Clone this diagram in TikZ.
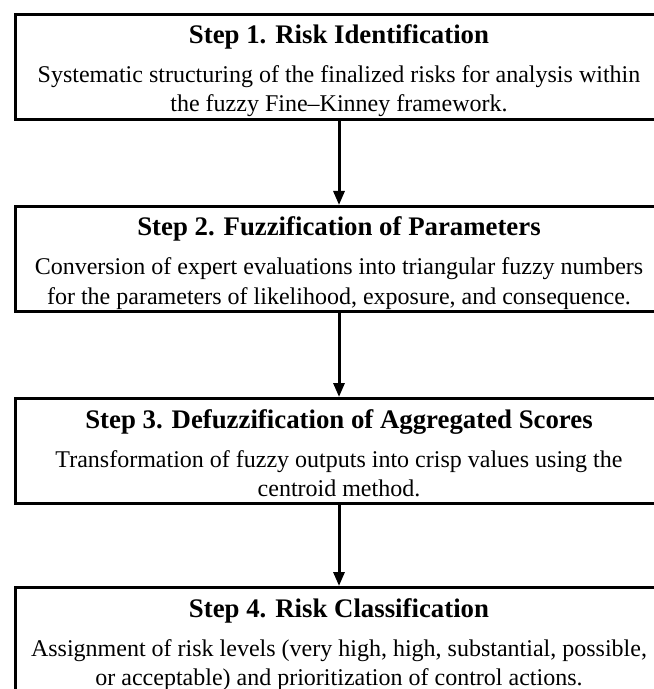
\documentclass[tikz,border=0pt]{standalone}
\usepackage{fontspec}
\setmainfont{Liberation Serif}
\usetikzlibrary{arrows.meta}

\begin{document}
\begin{tikzpicture}[x=0.5pt, y=-0.5pt, >={Triangle[length=7pt, width=5.5pt]},
    font=\fontsize{12}{14.5}\selectfont]
  \tikzset{
    stepbox/.style={draw, line width=1.5pt, minimum width=324pt, minimum height=52.5pt, inner sep=0pt, anchor=north},
    steptitle/.style={font=\fontsize{13.4}{15}\selectfont\bfseries, inner sep=0pt, anchor=base},
    stepbody/.style={align=center, inner sep=0pt, anchor=base},
    flow/.style={->, line width=1.5pt}
  }
  \useasboundingbox (0,0) rectangle (653,689);
  % step 1
  \node[stepbox] (s1) at (339,13) {};
  \node[steptitle] (t1) at (339,44) {Step 1. Risk Identification};
  \node[stepbody] (b1) at (339,112) {Systematic structuring of the finalized risks for analysis within\\the fuzzy Fine–Kinney framework.};
  % step 2
  \node[stepbox] (s2) at (339,205) {};
  \node[steptitle] (t2) at (339,236) {Step 2. Fuzzification of Parameters};
  \node[stepbody] (b2) at (339,304) {Conversion of expert evaluations into triangular fuzzy numbers\\for the parameters of likelihood, exposure, and consequence.};
  % step 3
  \node[stepbox] (s3) at (339,397) {};
  \node[steptitle] (t3) at (339,428) {Step 3. Defuzzification of Aggregated Scores};
  \node[stepbody] (b3) at (339,496) {Transformation of fuzzy outputs into crisp values using the\\centroid method.};
  % step 4
  \node[stepbox] (s4) at (339,586) {};
  \node[steptitle] (t4) at (339,617) {Step 4. Risk Classification};
  \node[stepbody] (b4) at (339,685) {Assignment of risk levels (very high, high, substantial, possible,\\or acceptable) and prioritization of control actions.};
  % arrows between the steps
  \draw[flow] (s1) -- (s2);
  \draw[flow] (s2) -- (s3);
  \draw[flow] (s3) -- (s4);
\end{tikzpicture}
\end{document}
